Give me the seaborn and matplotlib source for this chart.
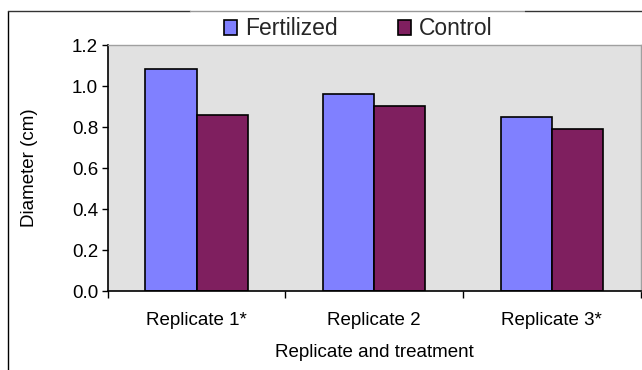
import matplotlib
matplotlib.use("Agg")
import matplotlib.pyplot as plt
import seaborn as sns
import pandas as pd
from matplotlib.lines import Line2D

categories = ["Replicate 1*", "Replicate 2", "Replicate 3*"]
series_names = ["Fertilized", "Control"]
fertilized = [1.084, 0.961, 0.848]
control = [0.857, 0.905, 0.793]
y_ticks = [0.0, 0.2, 0.4, 0.6, 0.8, 1.0, 1.2]

df = pd.DataFrame({
    "Replicate": categories * 2,
    "Treatment": [series_names[0]] * 3 + [series_names[1]] * 3,
    "Diameter": fertilized + control,
})

sns.set_theme(style="white")
plt.rcParams["font.family"] = ["Liberation Sans", "DejaVu Sans"]

fig = plt.figure(figsize=(6.42, 3.70), dpi=100)
ax = fig.add_axes([0.1678, 0.2135, 0.8322 - 0.002, 0.878 - 0.2135])

palette = {"Fertilized": "#8080FF", "Control": "#7F1F5F"}
sns.barplot(data=df, x="Replicate", y="Diameter", hue="Treatment",
            palette=palette, order=categories, hue_order=series_names,
            width=0.575, edgecolor="black", linewidth=1.2, saturation=1,
            ax=ax, errorbar=None)

ax.set_facecolor("#E1E1E1")
ax.set_xlim(-0.5, 2.5)
ax.set_ylim(0, 1.2)
ax.set_yticks(y_ticks)
ax.set_yticklabels([f"{v:.1f}" for v in y_ticks])
ax.set_xticks(range(len(categories)))
ax.set_xticklabels(categories)
ax.set_xticks([-0.5, 0.5, 1.5, 2.5], minor=True)
ax.tick_params(axis="x", which="major", length=0, pad=15, labelsize=13.5, colors="black")
ax.tick_params(axis="x", which="minor", length=5, width=1, direction="out", color="black", bottom=True)
ax.tick_params(axis="y", length=4, width=1, direction="out", left=True, labelsize=13.5, pad=3, colors="black")

ax.set_xlabel("Replicate and treatment", fontsize=13.5, labelpad=11, color="black")
ax.set_ylabel("Diameter (cm)", fontsize=13.5, labelpad=24, color="black")

for side in ["left", "bottom"]:
    ax.spines[side].set_color("black")
    ax.spines[side].set_linewidth(1.2)
for side in ["top", "right"]:
    ax.spines[side].set_color("#A0A0A0")
    ax.spines[side].set_linewidth(1.0)
    ax.spines[side].set_visible(True)

leg = ax.legend(loc="center", bbox_to_anchor=(0.558, 0.922), bbox_transform=fig.transFigure,
                ncol=2, frameon=False, fontsize=16.5, handlelength=0.6, handleheight=0.6,
                handletextpad=0.35, columnspacing=2.6, borderpad=0)
for h in leg.legend_handles:
    h.set_edgecolor("black")
    h.set_linewidth(1.2)

# outer chart frame (left and top)
fig.add_artist(Line2D([8 / 642, 8 / 642], [0, 1 - 11 / 370], transform=fig.transFigure, color="black", lw=1))
fig.add_artist(Line2D([8 / 642, 190 / 642], [1 - 11 / 370] * 2, transform=fig.transFigure, color="#333333", lw=1))
fig.add_artist(Line2D([190 / 642, 525 / 642], [1 - 11 / 370] * 2, transform=fig.transFigure, color="#999999", lw=1))
fig.add_artist(Line2D([525 / 642, 1], [1 - 11 / 370] * 2, transform=fig.transFigure, color="#333333", lw=1))

fig.savefig("out.png", dpi=100)
